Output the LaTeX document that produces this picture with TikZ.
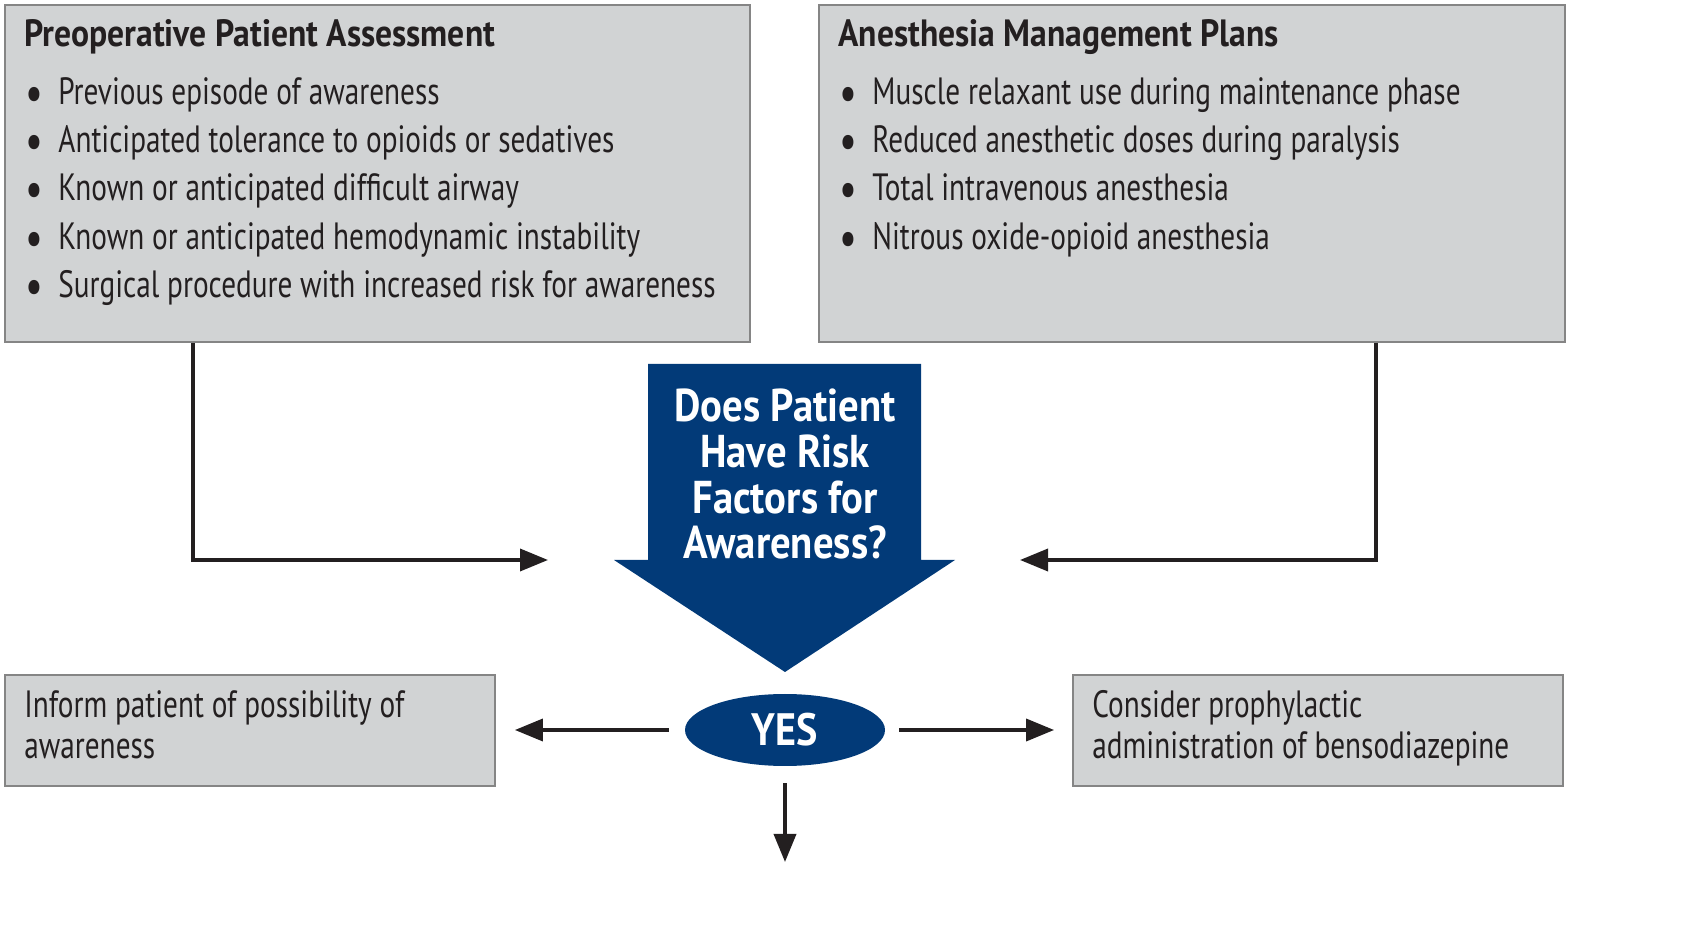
\documentclass[tikz,border=0pt]{standalone}
\usepackage{graphicx}
\usepackage{fontspec}
\setmainfont[FakeStretch=0.77, BoldFeatures={FakeStretch=0.885}]{PT Sans}
\usetikzlibrary{arrows.meta,shapes.geometric}
\definecolor{boxfill}{HTML}{D1D3D4}
\definecolor{boxline}{HTML}{858585}
\definecolor{navy}{HTML}{023A78}
\definecolor{ink}{HTML}{231F20}
\newcommand{\bodyfont}{\fontsize{19}{24}\selectfont}
\newcommand{\qfont}{\fontsize{23}{24}\selectfont\bfseries}
\newcommand{\yesfont}{\fontsize{22.7}{24}\selectfont\bfseries}
\newcommand{\blt}{\makebox[16.5pt][l]{\raisebox{-2.8pt}[0pt][0pt]{\scalebox{1.35}{\textbullet}}}}
\tikzset{
  graybox/.style={draw=boxline, fill=boxfill, line width=0.9pt, inner sep=0pt},
  txt/.style={anchor=base west, inner sep=0pt, font=\bodyfont, text=ink},
  ttl/.style={txt, font=\bodyfont\bfseries},
  qtxt/.style={anchor=base, inner sep=0pt, text=white, font=\qfont},
  conn/.style={draw=ink, line width=1.8pt, -{Triangle[length=14pt,width=11pt]}},
}
\begin{document}
\begin{tikzpicture}[x=0.5pt,y=-0.5pt]
\useasboundingbox (0,0) rectangle (1704,940);
% boxes
\node[graybox, minimum width=372.5pt, minimum height=168.5pt] (pre) at (377.5,173.5) {};
\node[graybox, minimum width=373pt, minimum height=168.5pt] (anes) at (1192,173.5) {};
\node[graybox, minimum width=245pt, minimum height=55.5pt] (inform) at (250,730.5) {};
\node[graybox, minimum width=245pt, minimum height=55.5pt] (consider) at (1318,730.5) {};
% left box text
\node[ttl] (preT) at (24,47) {Preoperative Patient Assessment};
\node[txt] (p1) at (25,105) {\blt Previous episode of awareness};
\node[txt] (p2) at (25,153) {\blt Anticipated tolerance to opioids or sedatives};
\node[txt] (p3) at (25,201) {\blt Known or anticipated difficult airway};
\node[txt] (p4) at (25,250) {\blt Known or anticipated hemodynamic instability};
\node[txt] (p5) at (25,298) {\blt Surgical procedure with increased risk for awareness};
% right box text
\node[ttl] (anT) at (838,47) {Anesthesia Management Plans};
\node[txt] (a1) at (839,105) {\blt Muscle relaxant use during maintenance phase};
\node[txt] (a2) at (839,153) {\blt Reduced anesthetic doses during paralysis};
\node[txt] (a3) at (839,201) {\blt Total intravenous anesthesia};
\node[txt] (a4) at (839,250) {\blt Nitrous oxide-opioid anesthesia};
% lower boxes text
\node[txt] (i1) at (24,718) {Inform patient of possibility of};
\node[txt] (i2) at (24,759) {awareness};
\node[txt] (c1) at (1092,718) {Consider prophylactic};
\node[txt] (c2) at (1092,759) {administration of bensodiazepine};
% big arrow
\fill[navy] (648,364) -- (921,364) -- (921,560) -- (955,560) -- (785,672) -- (614,560) -- (648,560) -- cycle;
\node[qtxt] (q1) at (785,422) {Does Patient};
\node[qtxt] (q2) at (785,468) {Have Risk};
\node[qtxt] (q3) at (785,514) {Factors for};
\node[qtxt] (q4) at (785,559) {Awareness?};
% yes
\node[ellipse, fill=navy, minimum width=100pt, minimum height=36pt, inner sep=0pt, text=white, font=\yesfont] (yes) at (785,730) {YES};
% connectors
\coordinate (lc) at (193,560);
\coordinate (la) at (548,560);
\draw[conn] (pre.south -| lc) -- (lc) -- (la);
\coordinate (rc) at (1376,560);
\coordinate (ra) at (1020,560);
\draw[conn] (anes.south -| rc) -- (rc) -- (ra);
\draw[conn, shorten <=8pt, shorten >=9.5pt] (yes.west) -- (yes.west -| inform.east);
\draw[conn, shorten <=7pt, shorten >=9pt] (yes.east) -- (yes.east -| consider.west);
\coordinate (down) at (785,862);
\draw[conn, shorten <=8.5pt] (yes.south) -- (down);
\end{tikzpicture}
\end{document}
